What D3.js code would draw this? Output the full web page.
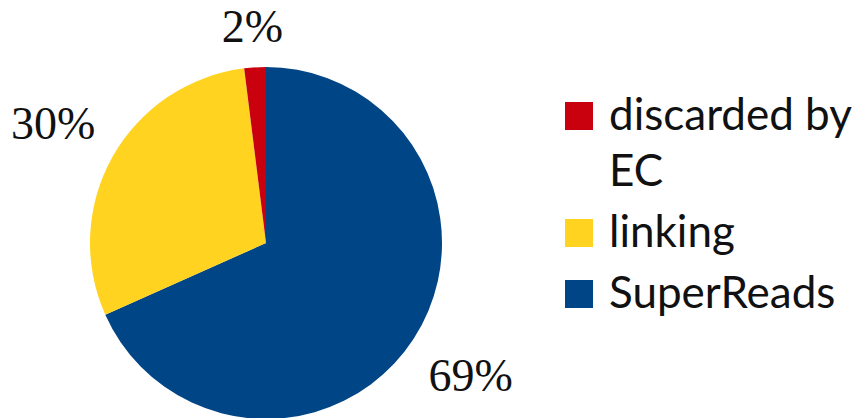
<!DOCTYPE html>
<html>
<head>
<meta charset="utf-8">
<script src="https://cdn.jsdelivr.net/npm/d3@7"></script>
<style>
  html, body { margin: 0; padding: 0; background: #ffffff; }
  svg { display: block; }
</style>
</head>
<body>
<svg id="chart" width="866" height="418"></svg>
<script>
// Share of reads, drawn clockwise from 12 o'clock
const categories = ["SuperReads", "linking", "discarded by EC"];
const shares = [69, 30, 2];
const colors = ["#004586", "#ffd320", "#c9000e"];
// Legend lists the categories bottom-up
const legendOrder = ["discarded by EC", "linking", "SuperReads"];

const width = 866, height = 418;
const cx = 266, cy = 243, radius = 176;

const svg = d3.select("#chart");

const data = categories.map((c, i) => ({ name: c, value: shares[i], color: colors[i] }));

const pie = d3.pie().sort(null).value(d => d.value);
const arc = d3.arc().innerRadius(0).outerRadius(radius);
const arcs = pie(data);

const g = svg.append("g").attr("transform", `translate(${cx},${cy})`);

g.selectAll("path.slice")
  .data(arcs)
  .join("path")
  .attr("class", "slice")
  .attr("d", arc)
  .attr("fill", d => d.data.color);

// Percentage labels placed just outside the rim, pushed out by half their extent
const labelGap = 24;
const digitHeight = 31;
const labels = g.selectAll("text.pct")
  .data(arcs)
  .join("text")
  .attr("class", "pct")
  .attr("font-family", "'Liberation Serif', 'DejaVu Serif', serif")
  .attr("font-size", 46)
  .attr("fill", "#111")
  .attr("text-anchor", "middle")
  .text(d => d.data.value + "%");

labels.each(function(d) {
  const w = this.getComputedTextLength();
  const a = (d.startAngle + d.endAngle) / 2;
  const s = Math.sin(a), c = Math.cos(a);
  const r = radius + labelGap + (w / 2) * Math.abs(s) + (digitHeight / 2) * Math.abs(c);
  const x = r * s, y = -r * c;
  d3.select(this).attr("x", x).attr("y", y + digitHeight / 2);
});

// Legend
const legendX = 565, legendTop = 130, sw = 28, textX = 609;
const lineH = 56, itemGap = 61;
const colorOf = Object.fromEntries(data.map(d => [d.name, d.color]));
const maxTextW = width - textX - 4;

const legend = svg.append("g");
let baseline = legendTop;
legendOrder.forEach(name => {
  const item = legend.append("g");
  item.append("rect")
    .attr("x", legendX).attr("y", baseline - sw)
    .attr("width", sw).attr("height", sw)
    .attr("fill", colorOf[name]);
  const t = item.append("text")
    .attr("font-family", "Lato, 'Open Sans', sans-serif")
    .attr("font-size", 44)
    .attr("fill", "#111")
    .attr("x", textX).attr("y", baseline);
  // wrap words to the space left of the right edge
  const words = name.split(" ");
  let line = [];
  let tspan = t.append("tspan").attr("x", textX).attr("y", baseline);
  let lines = 1;
  words.forEach(w => {
    line.push(w);
    tspan.text(line.join(" "));
    if (tspan.node().getComputedTextLength() > maxTextW && line.length > 1) {
      line.pop();
      tspan.text(line.join(" "));
      line = [w];
      tspan = t.append("tspan").attr("x", textX).attr("y", baseline + lines * lineH).text(w);
      lines++;
    }
  });
  baseline += (lines - 1) * lineH + itemGap;
});
</script>
</body>
</html>
